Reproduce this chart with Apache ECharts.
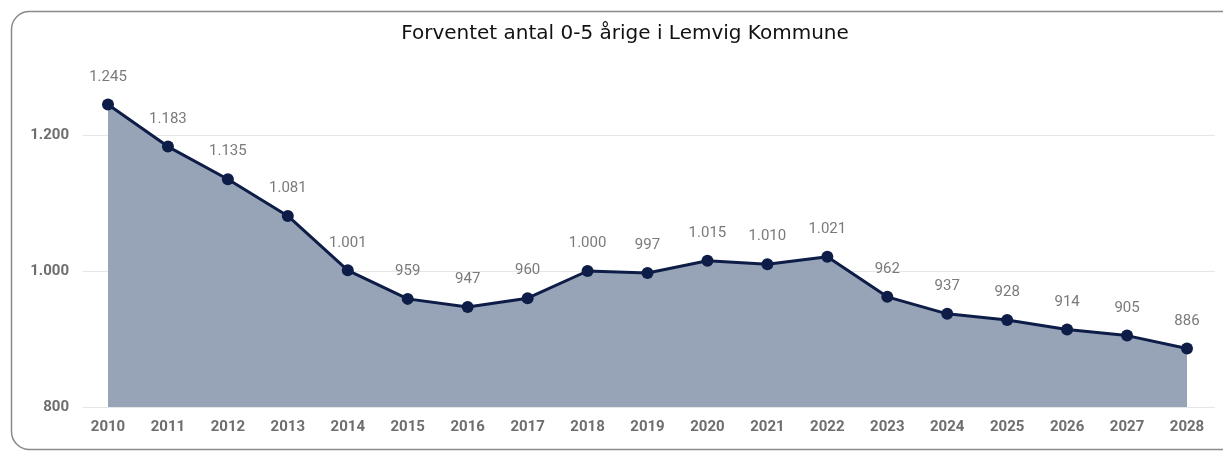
<!DOCTYPE html>
<html>
<head>
<meta charset="utf-8">
<script src="https://cdn.jsdelivr.net/npm/echarts@6/dist/echarts.min.js"></script>
<style>
  html, body { margin: 0; padding: 0; background: #fff; }
  #chart { width: 1223px; height: 451px; }
</style>
</head>
<body>
<div id="chart"></div>
<script>
// forventet antal 0-5 årige
const years = [2010, 2011, 2012, 2013, 2014, 2015, 2016, 2017, 2018, 2019,
  2020, 2021, 2022, 2023, 2024, 2025, 2026, 2027, 2028]
const values = [1245, 1183, 1135, 1081, 1001, 959, 947, 960, 1000, 997,
  1015, 1010, 1021, 962, 937, 928, 914, 905, 886]
const yTicks = [800, 1000, 1200]

// dansk tusindtalsseparator
const fmt = v => String(v).replace(/\B(?=(\d{3})+(?!\d))/g, '.')

const chart = echarts.init(document.getElementById('chart'))
chart.setOption({
  animation: false,
  backgroundColor: '#fff',
  textStyle: { fontFamily: 'Roboto' },
  graphic: [{
    type: 'rect',
    left: 9,
    top: 9,
    shape: { width: 1240, height: 438, r: 18 },
    style: { fill: 'none', stroke: '#8a8a8a', lineWidth: 1.5 },
    silent: true
  }],
  title: {
    text: 'Forventet antal 0-5 årige i Lemvig Kommune',
    left: 620,
    textAlign: 'center',
    top: 19,
    textStyle: { fontFamily: 'DejaVu Sans', fontSize: 20, fontWeight: 'normal', color: '#111' }
  },
  grid: { left: 83, right: 8, top: 67, bottom: 44 },
  xAxis: {
    type: 'value',
    min: 2009.583,
    max: 2028.467,
    axisLine: { show: false },
    axisTick: { show: false },
    splitLine: { show: false },
    axisLabel: {
      customValues: years,
      margin: 13,
      fontSize: 15,
      fontWeight: 'bold',
      color: '#6e6e6e',
      formatter: v => String(Math.round(v))
    }
  },
  yAxis: {
    type: 'value',
    min: 800,
    max: 1300,
    interval: 200,
    axisLine: { show: false },
    axisTick: { show: false, customValues: yTicks },
    splitLine: { lineStyle: { color: '#e6e6e6', width: 1 } },
    axisLabel: {
      customValues: yTicks,
      margin: 14,
      fontSize: 15,
      fontWeight: 'bold',
      color: '#6e6e6e',
      formatter: v => fmt(v)
    }
  },
  series: [{
    type: 'line',
    data: years.map((y, i) => [y, values[i]]),
    symbol: 'circle',
    symbolSize: 12,
    lineStyle: { color: '#0d1d47', width: 3 },
    itemStyle: { color: '#0d1d47' },
    areaStyle: { color: '#97a3b6', opacity: 1 },
    label: {
      show: true,
      position: 'top',
      distance: 14,
      fontSize: 15,
      color: '#7a7a7a',
      formatter: p => fmt(p.value[1])
    }
  }]
})
</script>
</body>
</html>
